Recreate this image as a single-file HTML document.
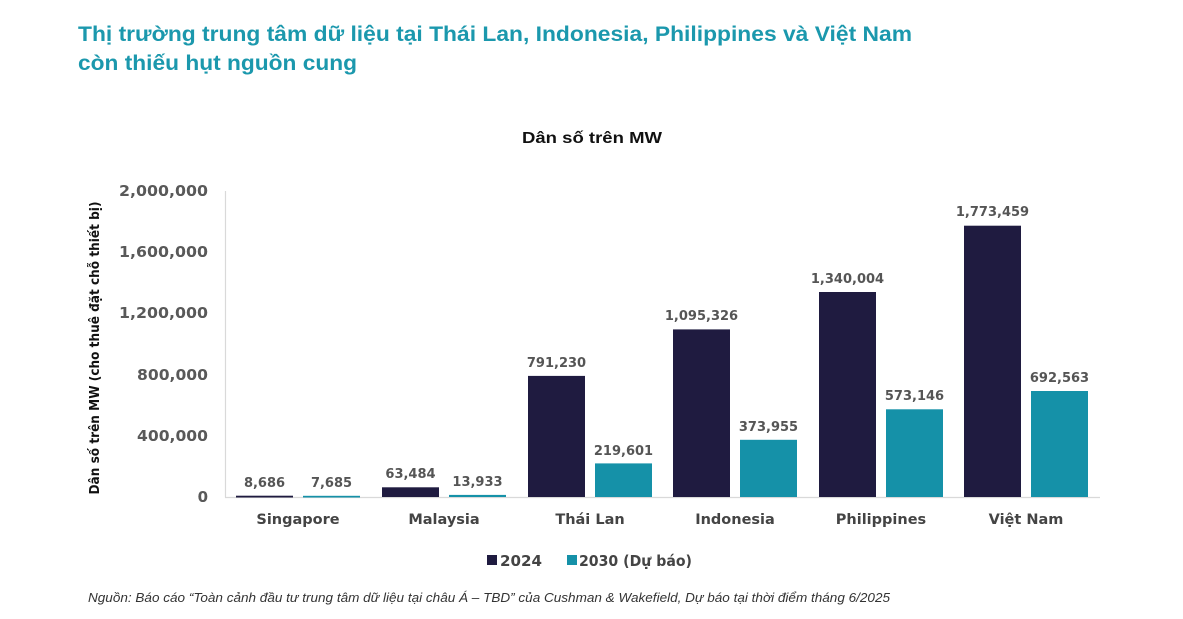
<!DOCTYPE html>
<html>
<head>
<meta charset="utf-8">
<style>
  html,body{margin:0;padding:0;background:#ffffff;}
  svg{display:block;}
</style>
</head>
<body>
<svg width="1183" height="619" viewBox="0 0 1183 619" xmlns="http://www.w3.org/2000/svg">
  <rect x="0" y="0" width="1183" height="619" fill="#ffffff"/>

  <!-- Main title -->
  <g font-family="'Liberation Sans','Noto Sans CJK SC',sans-serif" font-weight="bold" font-size="21" fill="#1b98ad">
    <text x="78" y="41" textLength="834" lengthAdjust="spacingAndGlyphs">Thị trường trung tâm dữ liệu tại Thái Lan, Indonesia, Philippines và Việt Nam</text>
    <text x="78" y="70" textLength="279" lengthAdjust="spacingAndGlyphs">còn thiếu hụt nguồn cung</text>
  </g>

  <!-- Chart title -->
  <text x="522" y="143" font-family="'Liberation Sans',sans-serif" font-weight="bold" font-size="16" fill="#111111" textLength="140" lengthAdjust="spacingAndGlyphs">Dân số trên MW</text>

  <!-- Axes -->
  <line x1="225.5" y1="191" x2="225.5" y2="497.5" stroke="#d9d9d9" stroke-width="1.2"/>
  <line x1="225" y1="497.5" x2="1100" y2="497.5" stroke="#d9d9d9" stroke-width="1.2"/>

  <!-- Y tick labels -->
  <g font-family="'DejaVu Sans',sans-serif" font-weight="bold" font-size="15" fill="#595959" text-anchor="end">
    <text x="208" y="196" textLength="89" lengthAdjust="spacingAndGlyphs">2,000,000</text>
    <text x="208" y="257" textLength="89" lengthAdjust="spacingAndGlyphs">1,600,000</text>
    <text x="208" y="318" textLength="89" lengthAdjust="spacingAndGlyphs">1,200,000</text>
    <text x="208" y="380" textLength="71" lengthAdjust="spacingAndGlyphs">800,000</text>
    <text x="208" y="441" textLength="71" lengthAdjust="spacingAndGlyphs">400,000</text>
    <text x="208" y="502">0</text>
  </g>

  <!-- Y axis title -->
  <text transform="translate(99,348) rotate(-90)" x="0" y="0" text-anchor="middle" font-family="'DejaVu Sans',sans-serif" font-weight="bold" font-size="13" fill="#111111" textLength="293" lengthAdjust="spacingAndGlyphs">Dân số trên MW (cho thuê đặt chỗ thiết bị)</text>

  <!-- Bars 2024 -->
  <g fill="#1f1b40">
    <rect x="236" y="495.7" width="57" height="1.8"/>
    <rect x="382" y="487.3" width="57" height="9.7"/>
    <rect x="528" y="375.9" width="57" height="121.1"/>
    <rect x="673" y="329.4" width="57" height="167.6"/>
    <rect x="819" y="292.0" width="57" height="205.0"/>
    <rect x="964" y="225.7" width="57" height="271.3"/>
  </g>
  <!-- Bars 2030 -->
  <g fill="#1591a8">
    <rect x="303" y="495.8" width="57" height="1.7"/>
    <rect x="449" y="494.9" width="57" height="2.1"/>
    <rect x="595" y="463.4" width="57" height="33.6"/>
    <rect x="740" y="439.8" width="57" height="57.2"/>
    <rect x="886" y="409.3" width="57" height="87.7"/>
    <rect x="1031" y="391.0" width="57" height="106.0"/>
  </g>

  <!-- Value labels -->
  <g font-family="'DejaVu Sans',sans-serif" font-weight="bold" font-size="13" fill="#555555" text-anchor="middle">
    <text x="264.5" y="487">8,686</text>
    <text x="331.5" y="487">7,685</text>
    <text x="410.5" y="478">63,484</text>
    <text x="477.5" y="486">13,933</text>
    <text x="556.5" y="367">791,230</text>
    <text x="623.5" y="455">219,601</text>
    <text x="701.5" y="320">1,095,326</text>
    <text x="768.5" y="431">373,955</text>
    <text x="847.5" y="283">1,340,004</text>
    <text x="914.5" y="400">573,146</text>
    <text x="992.5" y="216">1,773,459</text>
    <text x="1059.5" y="382">692,563</text>
  </g>

  <!-- Category labels -->
  <g font-family="'DejaVu Sans',sans-serif" font-weight="bold" font-size="14.5" fill="#444444" text-anchor="middle">
    <text x="298" y="524">Singapore</text>
    <text x="444" y="524">Malaysia</text>
    <text x="590" y="524">Thái Lan</text>
    <text x="735" y="524">Indonesia</text>
    <text x="881" y="524">Philippines</text>
    <text x="1026" y="524">Việt Nam</text>
  </g>

  <!-- Legend -->
  <rect x="487" y="555" width="10" height="10" fill="#1f1b40"/>
  <text x="500" y="566" font-family="'DejaVu Sans',sans-serif" font-weight="bold" font-size="15" fill="#444444" textLength="42" lengthAdjust="spacingAndGlyphs">2024</text>
  <rect x="567" y="555" width="10" height="10" fill="#1591a8"/>
  <text x="579" y="566" font-family="'DejaVu Sans',sans-serif" font-weight="bold" font-size="15" fill="#444444" textLength="113" lengthAdjust="spacingAndGlyphs">2030 (Dự báo)</text>

  <!-- Footnote -->
  <text x="88" y="602" font-family="'Liberation Sans',sans-serif" font-style="italic" font-size="13" fill="#333333" textLength="802" lengthAdjust="spacingAndGlyphs">Nguồn: Báo cáo “Toàn cảnh đầu tư trung tâm dữ liệu tại châu Á – TBD” của Cushman &amp; Wakefield, Dự báo tại thời điểm tháng 6/2025</text>
</svg>
</body>
</html>
